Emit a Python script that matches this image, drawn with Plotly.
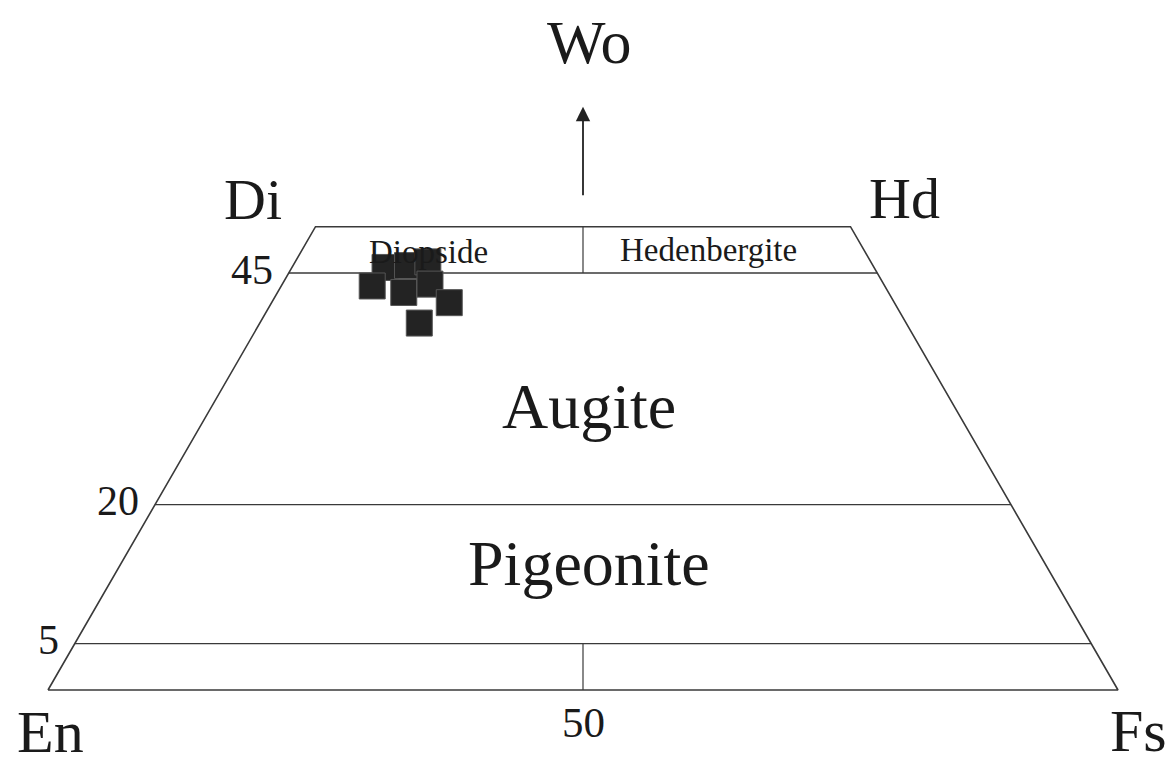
import numpy as np
import plotly.graph_objects as go

# pyroxene compositions (mol %)
wo = [45.6, 45.8, 46.2, 43.6, 42.9, 43.8, 41.8, 39.6]
fs = [8.7, 10.7, 12.4, 8.5, 11.8, 13.8, 16.6, 14.9]

# field boundaries (Wo %) and their tick labels
wo_lines = [45, 20, 5]
wo_labels = ['45', '20', '5']
wo_top = 50

H = np.sqrt(3) / 2
FONT = 'Liberation Serif, Times New Roman, serif'
LINE = '#3a3a3a'
PX = 10.7  # pixels per composition unit
PAD = 8    # page body margin


def tern(w, f):
    # En-Fs base, Wo apex, equilateral triangle of side 100
    w = np.asarray(w, dtype=float)
    f = np.asarray(f, dtype=float)
    return f + w / 2, w * H


def hline(w):
    # constant-Wo line across the quadrilateral
    x0, y0 = tern(w, 0)
    x1, y1 = tern(w, 100 - w)
    return [float(x0), float(x1)], [float(y0), float(y1)]


fig = go.Figure()

# outline En - Fs - Hd - Di - En
ox, oy = tern([0, 0, wo_top, wo_top, 0], [0, 100, wo_top, 0, 0])
fig.add_trace(go.Scatter(x=ox, y=oy, mode='lines', line=dict(color=LINE, width=1.6),
                         hoverinfo='skip', showlegend=False))

for w in wo_lines:
    lx, ly = hline(w)
    fig.add_trace(go.Scatter(x=lx, y=ly, mode='lines', line=dict(color=LINE, width=1.4),
                             hoverinfo='skip', showlegend=False))

# En50 / Fs50 dividers at bottom and top
for w0, w1 in [(0, 5), (45, 50)]:
    vx, vy = tern([w0, w1], [(100 - w0) / 2, (100 - w1) / 2])
    fig.add_trace(go.Scatter(x=vx, y=vy, mode='lines', line=dict(color=LINE, width=1.2),
                             hoverinfo='skip', showlegend=False))

px_, py_ = tern(wo, fs)
fig.add_trace(go.Scatter(x=px_, y=py_, mode='markers',
                         marker=dict(symbol='square', size=26, color='#232323',
                                     line=dict(color='#555555', width=1)),
                         showlegend=False))

ann = []


def label(x, y, text, size, xanchor='center', yanchor='middle'):
    ann.append(dict(x=x, y=y, xref='x', yref='y', text=text, showarrow=False,
                    xanchor=xanchor, yanchor=yanchor, borderpad=0,
                    font=dict(family=FONT, size=size, color='#1a1a1a')))


label(50.6, 60.6, 'Wo', 62)
label(19.2, 45.8, 'Di', 58)
label(80.0, 45.9, 'Hd', 58)
label(0.2, -3.9, 'En', 60)
label(101.9, -3.8, 'Fs', 60)
label(50.0, -3.0, '50', 43)
label(50.6, 26.5, 'Augite', 64)
label(50.6, 11.8, 'Pigeonite', 64)
label(35.6, 40.9, 'Diopside', 33)
label(61.7, 41.1, 'Hedenbergite', 33)

for w, t in zip(wo_lines, wo_labels):
    x0, y0 = tern(w, 0)
    label(float(x0) - 1.4, float(y0) + 0.3, t, 42, xanchor='right')

# arrow towards Wo apex
ann.append(dict(x=50, y=54.5, ax=50, ay=46.1, xref='x', yref='y', axref='x', ayref='y',
                text='', showarrow=True, arrowhead=2, arrowsize=1.6, arrowwidth=1.8,
                arrowcolor='#222222'))

fig.update_layout(
    width=1174 - PAD, height=769 - PAD,
    margin=dict(l=0, r=0, t=0, b=0),
    paper_bgcolor='white', plot_bgcolor='white',
    xaxis=dict(range=[(PAD - 48) / PX, (1174 - 48) / PX], visible=False, fixedrange=True),
    yaxis=dict(range=[-(769 - 690) / PX, (690 - PAD) / PX], visible=False, fixedrange=True),
    annotations=ann,
)

fig.write_html('out.html')
